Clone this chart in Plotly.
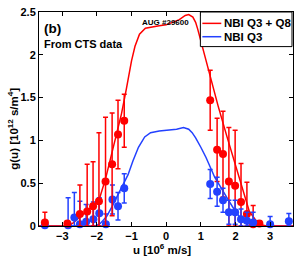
import plotly.graph_objects as go

# ---- smooth fitted curves ----
red_curve_u = [-3.67, -2.9, -2.7, -2.5, -2.3, -2.1, -1.94, -1.75, -1.5, -1.29, -1.15, -1.0, -0.9, -0.77, -0.6,
               -0.48, -0.2, 0.0, 0.2, 0.38, 0.55, 0.65, 0.77, 0.85, 0.91, 1.0, 1.27, 1.5, 1.75, 2.0, 2.2,
               2.4, 2.6, 2.8, 2.9, 3.66]
red_curve_g = [0.0, 0.0, 0.03, 0.1, 0.17, 0.24, 0.3, 0.55, 0.95, 1.31, 1.6, 1.93, 2.1, 2.24, 2.31,
               2.32, 2.34, 2.35, 2.38, 2.41, 2.46, 2.47, 2.44, 2.38, 2.3, 2.16, 1.75, 1.4, 1.05, 0.7, 0.42,
               0.17, 0.06, 0.01, 0.0, 0.0]
blue_curve_u = [-3.67, -2.05, -1.9, -1.72, -1.57, -1.34, -1.1, -0.96, -0.8, -0.62, -0.45, -0.2, 0.0, 0.3, 0.5,
                0.65, 0.75, 0.85, 1.0, 1.15, 1.4, 1.6, 1.8, 2.0, 2.15, 2.3, 2.4, 3.66]
blue_curve_g = [0.0, 0.0, 0.03, 0.11, 0.22, 0.4, 0.6, 0.76, 0.92, 1.04, 1.09, 1.11, 1.12, 1.13, 1.15,
                1.13, 1.09, 1.03, 0.92, 0.8, 0.57, 0.43, 0.3, 0.17, 0.09, 0.03, 0.0, 0.0]

# ---- CTS data points ----
red_left_u = [-3.50, -2.85, -2.49, -2.28, -2.11, -1.94, -1.75, -1.56, -1.39, -1.21]
red_left_g = [0.04, 0.03, 0.14, 0.17, 0.23, 0.29, 0.52, 0.72, 1.07, 1.23]
red_left_e = [0.12, 0.02, 0.34, 0.55, 0.52, 0.80, 0.75, 0.60, 0.40, 0.31]
red_right_u = [1.27, 1.47, 1.64, 1.81, 1.99, 2.16, 2.33, 2.51, 2.69]
red_right_g = [1.47, 0.89, 0.84, 0.52, 0.47, 0.28, 0.14, 0.02, 0.03]
red_right_e = [0.35, 0.37, 0.50, 0.63, 0.65, 0.45, 0.37, 0.22, 0.03]
blue_left_u = [-3.50, -2.83, -2.65, -2.49, -2.31, -2.10, -1.93, -1.74, -1.55, -1.39, -1.21]
blue_left_g = [0.01, 0.01, 0.10, 0.02, 0.05, 0.08, 0.15, 0.02, 0.31, 0.23, 0.44]
blue_left_e = [0.05, 0.32, 0.29, 0.27, 0.20, 0.20, 0.18, 0.12, 0.17, 0.16, 0.17]
blue_right_u = [1.27, 1.47, 1.64, 1.81, 1.99, 2.16, 2.33, 2.51, 3.00, 3.54]
blue_right_g = [0.49, 0.40, 0.30, 0.16, 0.16, 0.08, 0.06, 0.04, 0.02, 0.055]
blue_right_e = [0.17, 0.17, 0.14, 0.14, 0.14, 0.12, 0.10, 0.12, 0.09, 0.09]

x_ticks = [-3, -2, -1, 0, 1, 2, 3]
x_tick_text = ["\u22123", "\u22122", "\u22121", "0", "1", "2", "3"]
y_ticks = [0, 0.5, 1, 1.5, 2, 2.5]
y_tick_text = ["0", "0.5", "1", "1.5", "2", "2.5"]

legend_names = ["NBI Q3 + Q8", "NBI Q3"]

RED = "#ff0000"
BLUE = "rgb(35,65,255)"
FONT = "Liberation Sans"


def minus_err(g, e):
    return [min(a, b) for a, b in zip(g, e)]


def pts(u, g, e, color):
    return go.Scatter(
        x=u, y=g, mode="markers", showlegend=False, cliponaxis=False,
        marker=dict(color=color, size=8, line=dict(width=0)),
        error_y=dict(type="data", array=e, arrayminus=minus_err(g, e), symmetric=False,
                     color=color, thickness=1.5, width=2.5),
    )


fig = go.Figure()
fig.add_trace(go.Scatter(x=blue_curve_u, y=blue_curve_g, mode="lines", showlegend=False,
                         line=dict(color=BLUE, width=1.5)))
fig.add_trace(go.Scatter(x=red_curve_u, y=red_curve_g, mode="lines", showlegend=False,
                         line=dict(color=RED, width=1.5)))
fig.add_trace(pts(blue_left_u, blue_left_g, blue_left_e, BLUE))
fig.add_trace(pts(red_left_u, red_left_g, red_left_e, RED))
fig.add_trace(pts(red_right_u, red_right_g, red_right_e, RED))
fig.add_trace(pts(blue_right_u, blue_right_g, blue_right_e, BLUE))

L, R, T, B = 39, 6, 10, 32.5
W, H = 300, 259
pw, ph = W - L - R, H - T - B


def px(xp):
    return (xp - L) / pw


def py(yp):
    return (H - B - yp) / ph


axis_common = dict(showline=True, linecolor="black", linewidth=1, mirror="ticks",
                   ticks="inside", ticklen=4, tickcolor="black", showgrid=False, zeroline=False,
                   tickfont=dict(family=FONT, size=11, color="black", weight="bold"))

fig.update_xaxes(range=[-3.67, 3.66], tickvals=x_ticks, ticktext=x_tick_text, **axis_common)
fig.update_yaxes(range=[0, 2.5], tickvals=y_ticks, ticktext=y_tick_text, **axis_common)

shapes = [
    dict(type="rect", xref="paper", yref="paper", x0=px(201), x1=px(293), y0=py(45), y1=py(10),
         line=dict(color="black", width=1), fillcolor="white", layer="above"),
    dict(type="line", xref="paper", yref="paper", x0=px(203), x1=px(222), y0=py(21.5), y1=py(21.5),
         line=dict(color=RED, width=1.5), layer="above"),
    dict(type="line", xref="paper", yref="paper", x0=px(203), x1=px(222), y0=py(35), y1=py(35),
         line=dict(color=BLUE, width=1.5), layer="above"),
]

bold = dict(family=FONT, color="black", weight="bold")
annotations = [
    dict(text=legend_names[0], x=px(223), y=py(21.5), xanchor="left", yanchor="middle",
         font=dict(size=11.5, **bold)),
    dict(text=legend_names[1], x=px(223), y=py(35), xanchor="left", yanchor="middle",
         font=dict(size=11.5, **bold)),
    dict(text="(b)", x=px(42), y=py(26.5), xanchor="left", yanchor="middle",
         font=dict(size=13.5, **bold)),
    dict(text="From CTS data", x=px(42), y=py(42.5), xanchor="left", yanchor="middle",
         font=dict(size=11, **bold)),
    dict(text="AUG #29600", x=px(166), y=py(20.5), xanchor="center", yanchor="middle",
         font=dict(size=8, **bold)),
    dict(text="g(u) [10<sup>12</sup> s/m<sup>4</sup>]", x=px(13), y=py(128), textangle=-90,
         xanchor="center", yanchor="middle", font=dict(size=11.5, **bold)),
    dict(text="u [10<sup>6</sup> m/s]", x=px(162), y=py(250), xanchor="center", yanchor="middle",
         font=dict(size=11.5, **bold)),
]
for a in annotations:
    a.update(xref="paper", yref="paper", showarrow=False)

fig.update_layout(width=W, height=H, margin=dict(l=L, r=R, t=T, b=B, pad=0),
                  paper_bgcolor="white", plot_bgcolor="white", showlegend=False,
                  shapes=shapes, annotations=annotations)

fig.write_html("out.html", config={"displayModeBar": False},
               post_script="document.body.style.margin='0';document.body.style.padding='0';")
